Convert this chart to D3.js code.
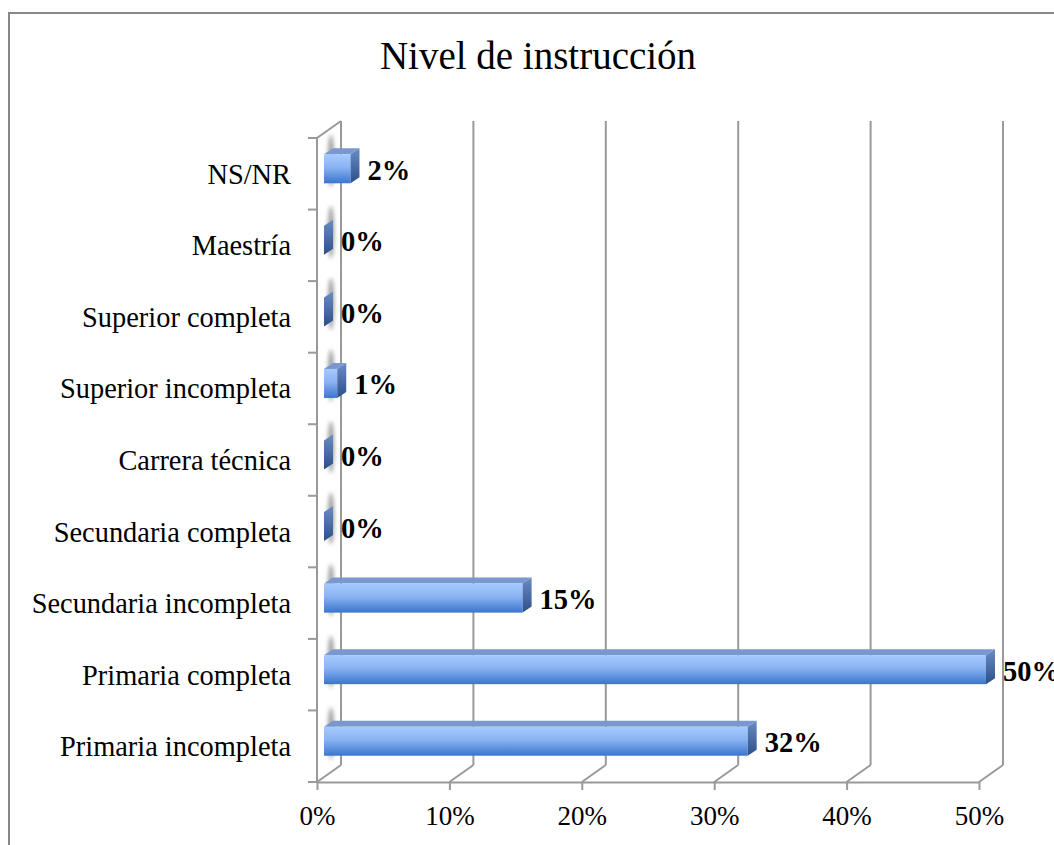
<!DOCTYPE html>
<html>
<head>
<meta charset="utf-8">
<script src="https://cdn.jsdelivr.net/npm/d3@7"></script>
<style>
  body { margin: 0; background: #fff; }
  svg { display: block; }
  text { font-family: "Liberation Serif", "Times New Roman", serif; fill: #000; }
</style>
</head>
<body>
<script>
// categories listed bottom to top, as in the chart
var categories = ["Primaria incompleta", "Primaria completa", "Secundaria incompleta",
  "Secundaria completa", "Carrera técnica", "Superior incompleta",
  "Superior completa", "Maestría", "NS/NR"];
var values = [32, 50, 15, 0, 0, 1, 0, 0, 2];
var xTicks = [0, 10, 20, 30, 40, 50];
var title = "Nivel de instrucción";

var W = 1054, H = 845;
var depthX = 24, depthY = -17;   // offset front plane -> back wall
var barOffX = 7, barOffY = -5;   // bar front face inside the depth
var barDX = 9, barDY = -6;       // bar thickness (depth)

var svg = d3.select("body").append("svg")
    .attr("width", W).attr("height", H);

var defs = svg.append("defs");
var gFront = defs.append("linearGradient").attr("id", "front")
    .attr("x1", 0).attr("y1", 0).attr("x2", 0).attr("y2", 1);
gFront.append("stop").attr("offset", "0%").attr("stop-color", "#a6caff");
gFront.append("stop").attr("offset", "45%").attr("stop-color", "#8ab3f2");
gFront.append("stop").attr("offset", "100%").attr("stop-color", "#3a75cc");
var gSide = defs.append("linearGradient").attr("id", "side")
    .attr("x1", 0).attr("y1", 0).attr("x2", 0).attr("y2", 1);
gSide.append("stop").attr("offset", "0%").attr("stop-color", "#6a8cc6");
gSide.append("stop").attr("offset", "100%").attr("stop-color", "#2c4f8a");
defs.append("filter").attr("id", "blur")
    .attr("x", "-200%").attr("width", "500%")
    .append("feGaussianBlur").attr("stdDeviation", 2.2);

// outer frame
svg.append("rect")
    .attr("x", 9).attr("y", 13).attr("width", 1100).attr("height", 900)
    .attr("fill", "none").attr("stroke", "#888").attr("stroke-width", 2);

svg.append("text")
    .attr("x", 538).attr("y", 69)
    .attr("text-anchor", "middle")
    .style("font-size", "39px")
    .text(title);

var x = d3.scaleLinear().domain([0, 50]).range([317, 979]);
var y = d3.scaleBand().domain(categories).range([782, 138]);
var y0 = 782, y1 = 138;
var gridColor = "#999";

var grid = svg.append("g").attr("fill", "none").attr("stroke", gridColor).attr("stroke-width", 2);

// back wall gridlines + floor diagonals
xTicks.forEach(function (t) {
  grid.append("line")
      .attr("x1", x(t) + depthX).attr("x2", x(t) + depthX)
      .attr("y1", y1 + depthY).attr("y2", y0 + depthY);
  grid.append("line")
      .attr("x1", x(t)).attr("x2", x(t) + depthX)
      .attr("y1", y0).attr("y2", y0 + depthY);
});

// left wall
grid.append("path")
    .attr("d", "M" + x(0) + "," + y0 + "V" + y1 + "L" + (x(0) + depthX) + "," + (y1 + depthY));

// left ticks at band edges
d3.range(categories.length + 1).forEach(function (k) {
  var yy = y0 - k * y.step();
  grid.append("line").attr("x1", x(0) - 9).attr("x2", x(0)).attr("y1", yy).attr("y2", yy);
});

// bottom axis
var xAxis = svg.append("g")
    .attr("transform", "translate(0," + y0 + ")")
    .call(d3.axisBottom(x).tickValues(xTicks).tickFormat(function (d) { return d + "%"; })
      .tickSize(8).tickSizeOuter(0).tickPadding(16));
xAxis.select(".domain").attr("stroke", gridColor).attr("stroke-width", 2);
xAxis.selectAll(".tick line").attr("stroke", gridColor).attr("stroke-width", 2);
xAxis.selectAll(".tick text")
    .style("font-size", "27px").style("font-family", "Liberation Serif, serif").attr("fill", "#000");

// category labels
svg.append("g").selectAll("text")
    .data(categories).enter().append("text")
    .attr("x", 291)
    .attr("y", function (d) { return y(d) + y.bandwidth() / 2 + 10; })
    .attr("text-anchor", "end")
    .style("font-size", "28.4px")
    .text(function (d) { return d; });

var barH = 29;
var data = categories.map(function (c, i) { return { cat: c, v: values[i] }; });

// soft shadows on the left wall
svg.append("g").selectAll("ellipse")
    .data(data).enter().append("ellipse")
    .attr("cx", 331)
    .attr("cy", function (d) { return y(d.cat) + y.bandwidth() / 2 + barOffY - 8; })
    .attr("rx", 3).attr("ry", 26)
    .attr("fill", "#555").attr("opacity", 0.6)
    .attr("filter", "url(#blur)");

var bars = svg.append("g").selectAll("g")
    .data(data).enter().append("g");

bars.each(function (d) {
  var g = d3.select(this);
  var cy = y(d.cat) + y.bandwidth() / 2 + barOffY;
  var top = cy - barH / 2, bot = cy + barH / 2;
  var xl = x(0) + barOffX, xr = x(d.v) + barOffX;
  if (d.v > 0) {
    // top face
    g.append("path")
        .attr("d", "M" + xl + "," + top + "L" + (xl + barDX) + "," + (top + barDY) +
          "L" + (xr + barDX) + "," + (top + barDY) + "L" + xr + "," + top + "Z")
        .attr("fill", "#7898cf");
    // front face
    g.append("rect")
        .attr("x", xl).attr("y", top).attr("width", xr - xl).attr("height", barH)
        .attr("fill", "url(#front)");
  }
  // end face
  g.append("path")
      .attr("d", "M" + xr + "," + top + "L" + (xr + barDX) + "," + (top + barDY) +
        "L" + (xr + barDX) + "," + (bot + barDY) + "L" + xr + "," + bot + "Z")
      .attr("fill", "url(#side)");
});

// data labels
svg.append("g").selectAll("text")
    .data(data).enter().append("text")
    .attr("x", function (d) { return x(d.v) + 24; })
    .attr("y", function (d) { return y(d.cat) + y.bandwidth() / 2 + 6; })
    .style("font-size", "28.5px").style("font-weight", "bold")
    .text(function (d) { return d.v + "%"; });
</script>
</body>
</html>
